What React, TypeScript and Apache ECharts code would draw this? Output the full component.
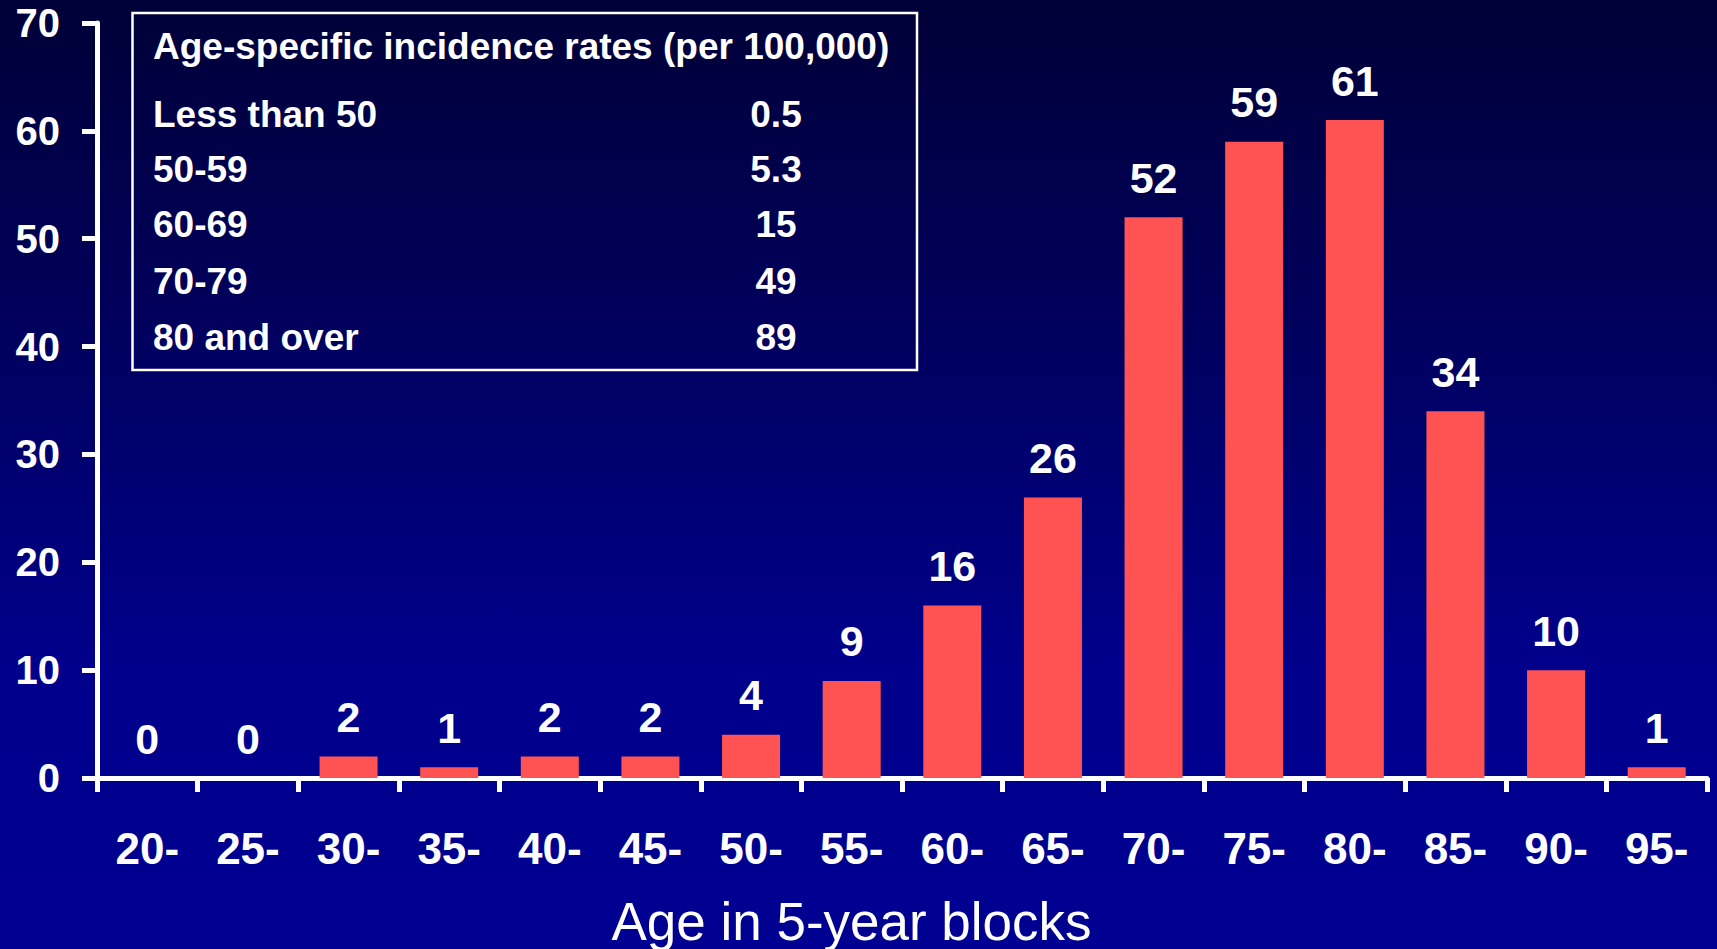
import React, { useEffect, useRef } from "react";
import * as echarts from "echarts";

const categories = ["20-", "25-", "30-", "35-", "40-", "45-", "50-", "55-", "60-", "65-", "70-", "75-", "80-", "85-", "90-", "95-"];
const counts = [0, 0, 2, 1, 2, 2, 4, 9, 16, 26, 52, 59, 61, 34, 10, 1];
const yTicks = { min: 0, max: 70, interval: 10 };
const xAxisTitle = "Age in 5-year blocks";
const tableTitle = "Age-specific incidence rates (per 100,000)";
const tableRows = ["Less than 50", "50-59", "60-69", "70-79", "80 and over"];
const tableValues = ["0.5", "5.3", "15", "49", "89"];

const FONT = "'Liberation Sans', Arial, Helvetica, sans-serif";

export default function App() {
  const ref = useRef<HTMLDivElement>(null);
  useEffect(() => {
    if (!ref.current) return;
    const chart = echarts.init(ref.current, undefined, { renderer: "svg" });
    const rowYs = [114, 169.5, 224.5, 281, 337];
    const tableChildren: any[] = [
      {
        type: "rect",
        shape: { x: 132.5, y: 13, width: 784.5, height: 357 },
        style: { fill: "none", stroke: "#ffffff", lineWidth: 2.5 },
      },
      {
        type: "text",
        x: 153,
        y: 46,
        style: { text: tableTitle, fill: "#ffffff", fontSize: 37, fontWeight: "bold", fontFamily: FONT, align: "left", verticalAlign: "middle" },
      },
    ];
    tableRows.forEach((r, i) => {
      tableChildren.push({
        type: "text",
        x: 153,
        y: rowYs[i],
        style: { text: r, fill: "#ffffff", fontSize: 37, fontWeight: "bold", fontFamily: FONT, align: "left", verticalAlign: "middle" },
      });
      tableChildren.push({
        type: "text",
        x: 776,
        y: rowYs[i],
        style: { text: tableValues[i], fill: "#ffffff", fontSize: 37, fontWeight: "bold", fontFamily: FONT, align: "center", verticalAlign: "middle" },
      });
    });
    chart.setOption({
      animation: false,
      backgroundColor: {
        type: "linear",
        x: 0, y: 0, x2: 0, y2: 1,
        colorStops: [
          { offset: 0, color: "#000038" },
          { offset: 0.35, color: "#00005e" },
          { offset: 0.7, color: "#00008c" },
          { offset: 1, color: "#000092" },
        ],
      },
      grid: { left: 97, right: 10, top: 23, bottom: 171, containLabel: false },
      xAxis: {
        type: "category",
        data: categories,
        boundaryGap: true,
        axisLine: { show: true, lineStyle: { color: "#ffffff", width: 5 } },
        axisTick: { show: true, alignWithLabel: false, length: 14, lineStyle: { color: "#ffffff", width: 5 } },
        axisLabel: { color: "#ffffff", fontSize: 44, fontWeight: "bold", fontFamily: FONT, margin: 48, interval: 0 },
        splitLine: { show: false },
      },
      yAxis: {
        type: "value",
        min: yTicks.min,
        max: yTicks.max,
        interval: yTicks.interval,
        axisLine: { show: true, lineStyle: { color: "#ffffff", width: 5 } },
        axisTick: { show: true, length: 15, lineStyle: { color: "#ffffff", width: 5 } },
        axisLabel: { color: "#ffffff", fontSize: 40, fontWeight: "bold", fontFamily: FONT, margin: 37 },
        splitLine: { show: false },
      },
      series: [
        {
          type: "bar",
          data: counts,
          barWidth: 58,
          itemStyle: { color: "#ff5252" },
          label: {
            show: true,
            position: "top",
            distance: 18,
            color: "#ffffff",
            fontSize: 43,
            fontWeight: "bold",
            fontFamily: FONT,
          },
        },
      ],
      graphic: [
        { type: "group", children: tableChildren },
        {
          type: "text",
          x: 851.5,
          y: 921,
          style: { text: xAxisTitle, fill: "#ffffff", fontSize: 53, fontFamily: FONT, align: "center", verticalAlign: "middle" },
        },
      ],
    });
    return () => chart.dispose();
  }, []);
  return <div ref={ref} style={{ position: "absolute", left: 0, top: 0, width: 1717, height: 949 }} />;
}
